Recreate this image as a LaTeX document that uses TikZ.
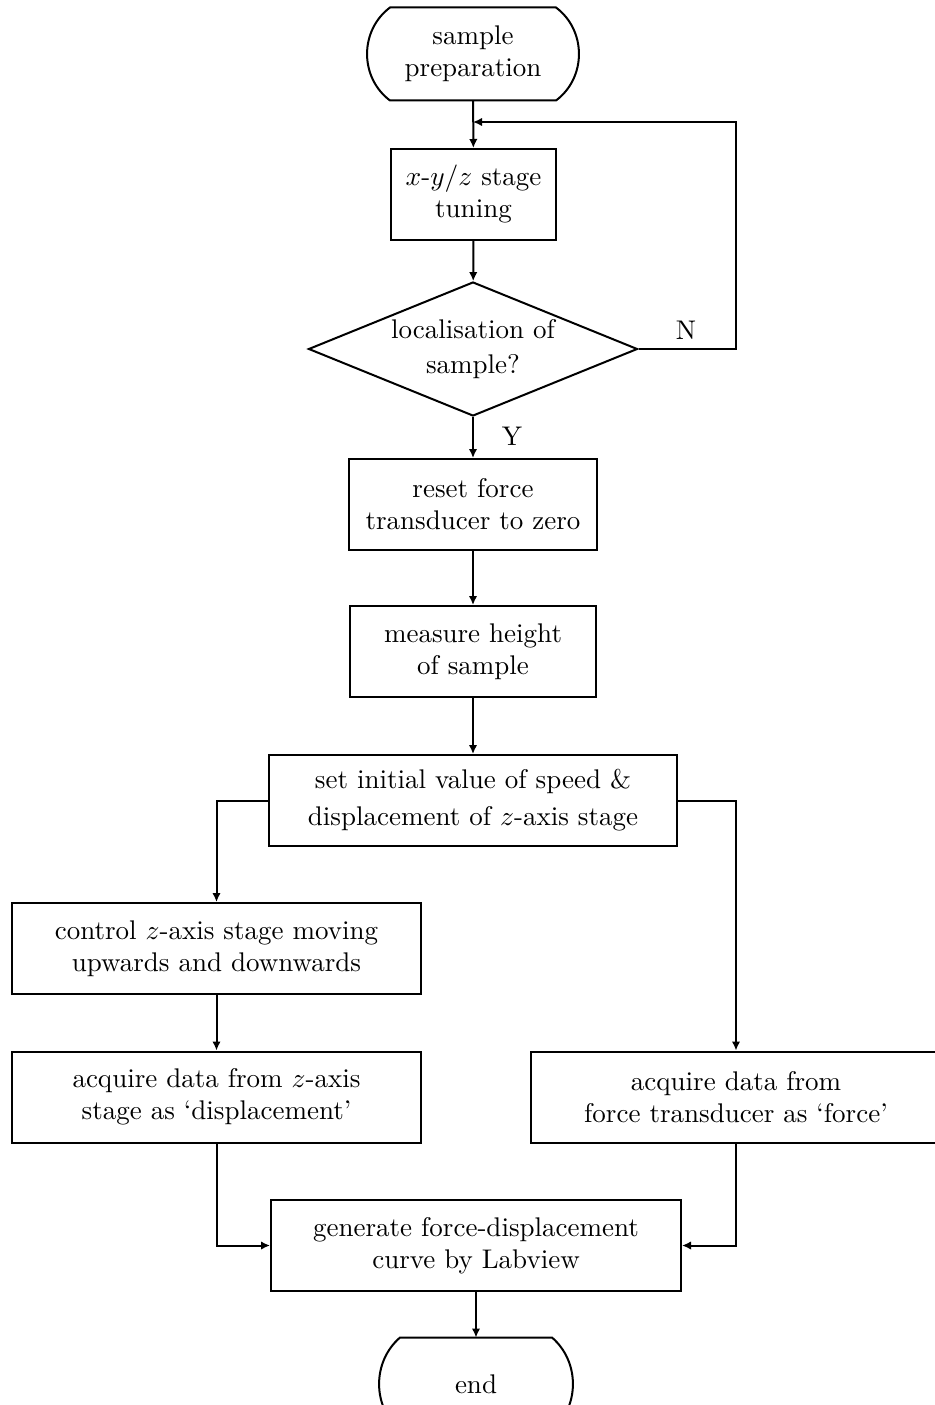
\documentclass[tikz,border=0pt]{standalone}
\usetikzlibrary{shapes.geometric,arrows.meta,calc}

% outline of a terminal (start/end) node: flat top and bottom, arc-shaped sides
\newcommand\drawterminal[3]{%
  \draw[flowline] (#1.north west) -- (#1.north east)
    .. controls ($(#1.north east)+(#2,#3)$) and ($(#1.south east)+(#2,-#3)$) .. (#1.south east)
    -- (#1.south west)
    .. controls ($(#1.south west)+(-#2,-#3)$) and ($(#1.north west)+(-#2,#3)$) .. cycle;}

\begin{document}
\begin{tikzpicture}[x=0.4pt,y=-0.4pt,
  every node/.style={font=\fontsize{10.8pt}{12.8pt}\selectfont},
  flowline/.style={line width=0.8pt},
  arr/.style={flowline,-{Latex[length=3.6pt,width=3.4pt]}},
  procbox/.style={draw,flowline,rectangle,align=center,inner sep=2pt,minimum height=36.4pt},
  termbox/.style={rectangle,align=center,inner sep=0pt,minimum height=36.8pt},
  decision/.style={draw,flowline,diamond,aspect=2.455,align=center,inner sep=0pt,
    minimum width=131.6pt,minimum height=53.6pt},
  branchlabel/.style={inner sep=0pt}]
\useasboundingbox (0,0) rectangle (934,1405);

% nodes of the flow
\node[termbox,minimum width=66pt] (start) at (473,54) {sample\\preparation};
\node[procbox,minimum width=66pt] (b1) at (473.5,194.5) {$x$-$y/z$ stage\\tuning};
\node[decision] (dec) at (473,349) {localisation of\\[1pt]sample?};
\node[procbox,minimum width=99.2pt] (b2) at (473,504.5) {reset force\\transducer to zero};
\node[procbox,minimum width=98.4pt] (b3) at (473,651.5) {measure height\\of sample};
\node[procbox,minimum width=163.2pt] (b4) at (473,800.5) {set initial value of speed \&\\[2pt]displacement of $z$-axis stage};
\node[procbox,minimum width=163.6pt] (b5) at (216.5,948.5) {control $z$-axis stage moving\\upwards and downwards};
\node[procbox,minimum width=163.6pt] (b6) at (216.5,1097) {acquire data from $z$-axis\\stage as `displacement'};
\node[procbox,minimum width=164pt] (b8) at (736,1097) {acquire data from\\force transducer as `force'};
\node[procbox,minimum width=164pt] (b7) at (476,1245.5) {generate force-displacement\\curve by Labview};
\node[termbox,minimum width=60.4pt] (end) at (476,1384) {end};

\drawterminal{start}{30.6}{23}
\drawterminal{end}{27.9}{24.2}

% branch labels
\node[branchlabel] (nlab) at (686,330) {N};
\node[branchlabel] (ylab) at (512,436) {Y};

% connectors
\coordinate (loopend) at (473,122);
\coordinate (loopcorner) at (736,122);
\draw[arr] (start) -- (b1);
\draw[arr] (b1) -- (dec);
\draw[arr] (dec.east) -| (loopcorner) -- (loopend);
\draw[arr] (dec.south) -- (b2);
\draw[arr] (b2) -- (b3);
\draw[arr] (b3) -- (b4);
\draw[arr] (b4.west) -| (b5.north);
\draw[arr] (b4.east) -| (b8.north);
\draw[arr] (b5) -- (b6);
\draw[arr] (b6.south) |- (b7.west);
\draw[arr] (b8.south) |- (b7.east);
\draw[arr] (b7.south) -- (b7.south |- end.north);
\end{tikzpicture}
\end{document}
